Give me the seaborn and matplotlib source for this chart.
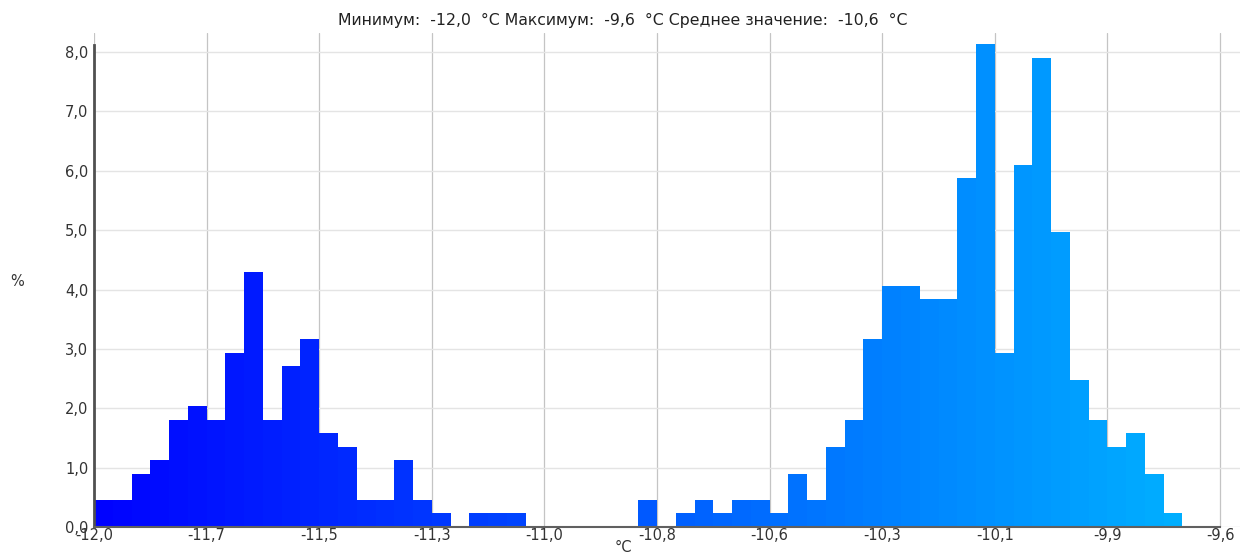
import numpy as np
import pandas as pd
import matplotlib
matplotlib.use("Agg")
import matplotlib.pyplot as plt
import seaborn as sns

# ---- data ----
bin_start = -12.0
bin_end = -9.6
n_bins = 60
percent = [
    0.45, 0.45, 0.90, 1.13, 1.81, 2.03, 1.81, 2.93, 4.29, 1.81,
    2.71, 3.16, 1.58, 1.35, 0.45, 0.45, 1.13, 0.45, 0.23, 0.00,
    0.23, 0.23, 0.23, 0.00, 0.00, 0.00, 0.00, 0.00, 0.00, 0.45,
    0.00, 0.23, 0.45, 0.23, 0.45, 0.45, 0.23, 0.90, 0.45, 1.35,
    1.81, 3.16, 4.06, 4.06, 3.84, 3.84, 5.87, 8.13, 2.93, 6.09,
    7.90, 4.97, 2.48, 1.81, 1.35, 1.58, 0.90, 0.23, 0.00, 0.00,
]
x_tick_values = [-12.0, -11.76, -11.52, -11.28, -11.04, -10.8, -10.56, -10.32, -10.08, -9.84, -9.6]
x_tick_labels = ["-12,0", "-11,7", "-11,5", "-11,3", "-11,0", "-10,8", "-10,6", "-10,3", "-10,1", "-9,9", "-9,6"]
y_tick_values = [0, 1, 2, 3, 4, 5, 6, 7, 8]
y_tick_labels = ["0,0", "1,0", "2,0", "3,0", "4,0", "5,0", "6,0", "7,0", "8,0"]
title_text = "Минимум:  -12,0  °C Максимум:  -9,6  °C Среднее значение:  -10,6  °C"
x_label = "°C"
y_label = "%"

width = (bin_end - bin_start) / n_bins
centers = bin_start + width * (np.arange(n_bins) + 0.5)
df = pd.DataFrame({"temp": centers, "pct": percent})

sns.set_style("white")
plt.rcParams["font.family"] = ["DejaVu Sans"]

fig = plt.figure(figsize=(12.4, 5.54), dpi=100)
ax = fig.add_axes([94 / 1240, 1 - 527 / 554, 1146 / 1240, 494 / 554])

sns.histplot(data=df, x="temp", weights="pct", bins=n_bins,
             binrange=(bin_start, bin_end), ax=ax, stat="count",
             element="bars", fill=True, alpha=1, linewidth=0)

for p in ax.patches:
    c = p.get_x() + p.get_width() / 2
    t = (c - bin_start) / (bin_end - bin_start)
    g = 182 * t / 255
    p.set_facecolor((0, g, 1.0))
    p.set_edgecolor("none")
    p.set_zorder(2)

ax.set_xlim(bin_start, bin_end + 20 / 469.2)
ax.set_ylim(0, 8.32)

ax.set_xticks(x_tick_values)
ax.set_xticklabels(x_tick_labels)
ax.set_yticks(y_tick_values)
ax.set_yticklabels(y_tick_labels)
ax.tick_params(axis="both", length=0, labelsize=10.5, colors="#333333")
ax.tick_params(axis="x", pad=1)
ax.tick_params(axis="y", pad=4)

ax.xaxis.grid(True, color="#c4c4c4", linewidth=0.9, zorder=0)
ax.yaxis.grid(True, color="#e4e4e4", linewidth=1.0, zorder=0)
ax.set_axisbelow(True)

for s in ["top", "right"]:
    ax.spines[s].set_visible(False)
ax.spines["left"].set_color("#505050")
ax.spines["left"].set_linewidth(2)
ax.spines["left"].set_bounds(0, 8.12)
ax.spines["bottom"].set_color("#606060")
ax.spines["bottom"].set_linewidth(1.5)
ax.spines["bottom"].set_bounds(bin_start, bin_end)
ax.spines["bottom"].set_zorder(3)

ax.set_xlabel(x_label, fontsize=10.5, color="#333333", va="center")
ax.xaxis.set_label_coords((623 - 94) / 1146, (527 - 547) / 494)
ax.set_ylabel(y_label, fontsize=10.5, color="#333333", rotation=0, ha="center", va="center")
ax.yaxis.set_label_coords((17 - 94) / 1146, (527 - 282) / 494)

fig.text(623 / 1240, 1 - 20 / 554, title_text, ha="center", va="center",
         fontsize=11.3, color="#222222")

fig.savefig("out.png", dpi=100, facecolor="white")
